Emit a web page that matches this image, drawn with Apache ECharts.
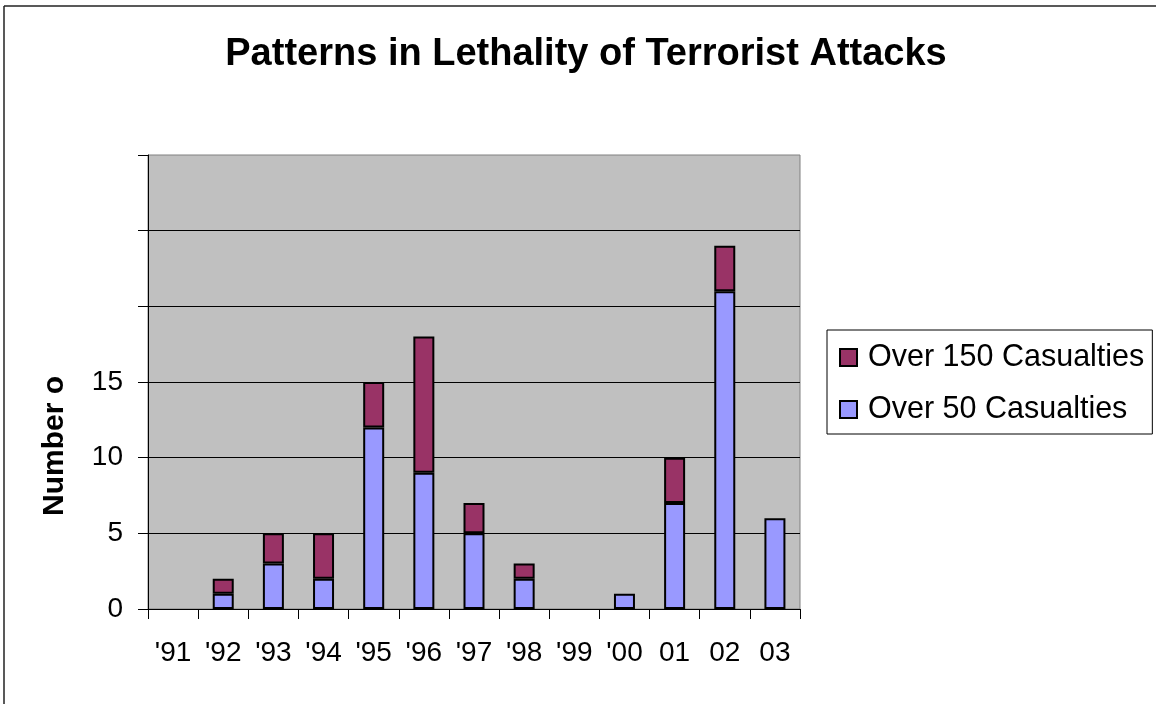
<!DOCTYPE html>
<html>
<head>
<meta charset="utf-8">
<script src="https://cdn.jsdelivr.net/npm/echarts@6/dist/echarts.min.js"></script>
<style>
html,body{margin:0;padding:0;background:#fff;}
#chart{width:1156px;height:704px;}
</style>
</head>
<body>
<div id="chart"></div>
<script>
const categories = ["'91","'92","'93","'94","'95","'96","'97","'98","'99","'00","01","02","03"];
const over50 = [0, 1, 3, 2, 12, 9, 5, 2, 0, 1, 7, 21, 6];
const over150 = [0, 1, 2, 3, 3, 9, 2, 1, 0, 0, 3, 3, 0];
const yTickLabels = ['0', '5', '10', '15'];
const titleText = 'Patterns in Lethality of Terrorist Attacks';
const yName = 'Number o';
const seriesNames = ['Over 50 Casualties', 'Over 150 Casualties'];

const FONT = '"Liberation Sans", Arial, sans-serif';
const nz = arr => arr.map(v => (v === 0 ? '-' : v));

const chart = echarts.init(document.getElementById('chart'), null, {renderer: 'canvas'});
chart.setOption({
  animation: false,
  backgroundColor: '#ffffff',
  title: {
    text: titleText,
    left: 581,
    textAlign: 'center',
    top: 31,
    textStyle: {fontFamily: FONT, fontSize: 38, fontWeight: 'bold', color: '#000'}
  },
  grid: {
    left: 148, right: 356, top: 155, bottom: 95,
    show: true, backgroundColor: '#C0C0C0', borderColor: '#808080', borderWidth: 1
  },
  legend: {
    orient: 'vertical',
    left: 827, top: 330,
    data: [seriesNames[1], seriesNames[0]],
    itemWidth: 17, itemHeight: 17, itemGap: 21,
    padding: [12, 8, 9, 12],
    borderColor: '#000', borderWidth: 1,
    backgroundColor: '#fff',
    icon: 'rect',
    textStyle: {fontFamily: FONT, fontSize: 30.5, color: '#000', lineHeight: 30, padding: [0, 0, 0, 6]}
  },
  xAxis: {
    type: 'category',
    data: categories,
    axisLine: {lineStyle: {color: '#000', width: 1}},
    axisTick: {show: true, length: 10, lineStyle: {color: '#000'}},
    axisLabel: {fontFamily: FONT, fontSize: 28, color: '#000', margin: 30},
    splitLine: {show: false}
  },
  yAxis: {
    type: 'value',
    min: 0, max: 30, interval: 5,
    name: yName,
    nameLocation: 'middle',
    nameRotate: 90,
    nameGap: 78,
    nameTextStyle: {fontFamily: FONT, fontSize: 30, fontWeight: 'bold', color: '#000', padding: [0, 128, 0, 0]},
    axisLine: {show: true, lineStyle: {color: '#000', width: 1}},
    axisTick: {show: true, length: 10, lineStyle: {color: '#000'}},
    axisLabel: {
      fontFamily: FONT, fontSize: 28, color: '#000', margin: 25,
      formatter: v => (yTickLabels.indexOf(String(v)) >= 0 ? String(v) : '')
    },
    splitLine: {show: true, showMinLine: false, showMaxLine: false, lineStyle: {color: '#000', width: 1}}
  },
  series: [
    {
      name: seriesNames[0], type: 'bar', stack: 'total', data: nz(over50),
      barWidth: 21,
      itemStyle: {color: '#9999FF', borderColor: '#000', borderWidth: 2}
    },
    {
      name: seriesNames[1], type: 'bar', stack: 'total', data: nz(over150),
      barWidth: 21,
      itemStyle: {color: '#993366', borderColor: '#000', borderWidth: 2}
    }
  ],
  graphic: [
    {type: 'line', shape: {x1: 4, y1: 6, x2: 1156, y2: 6}, style: {stroke: '#222', lineWidth: 1.5}, silent: true},
    {type: 'line', shape: {x1: 4, y1: 6, x2: 4, y2: 704}, style: {stroke: '#222', lineWidth: 1.5}, silent: true}
  ]
});
</script>
</body>
</html>
